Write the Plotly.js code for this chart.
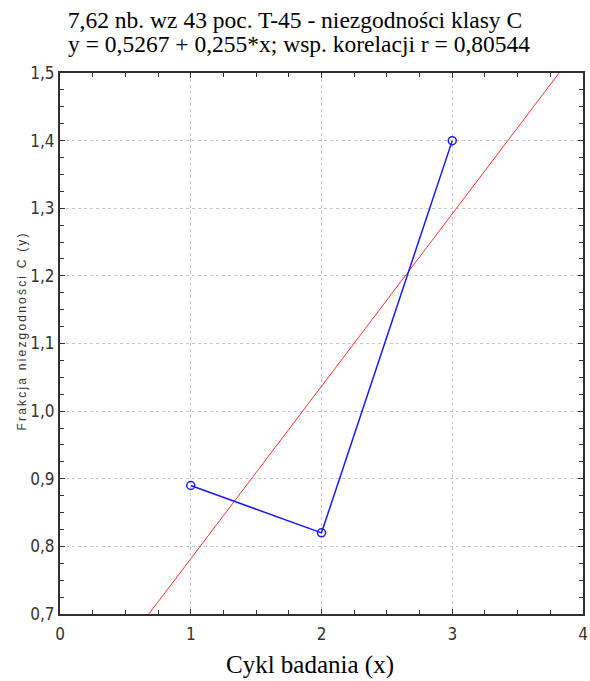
<!DOCTYPE html>
<html>
<head>
<meta charset="utf-8">
<script src="https://cdn.plot.ly/plotly-3.0.1.min.js"></script>
<style>
  html, body { margin: 0; padding: 0; background: #fff; }
  #chart { width: 590px; height: 681px; }
</style>
</head>
<body>
<div id="chart"></div>
<script>
// Measured cycles and class-C nonconformity fractions
const cycles = [1, 2, 3];
const fractions = [0.89, 0.82, 1.40];

// Least-squares fit reported in the title
const intercept = 0.5267;
const slope = 0.255;
const fitX = [0, 4];
const fitY = fitX.map(x => intercept + slope * x);

const titleText = '7,62 nb. wz 43 poc. T-45 - niezgodności klasy C';
const fitText = 'y = 0,5267 + 0,255*x; wsp. korelacji r = 0,80544';
const xTitle = 'Cykl badania (x)';
const yTitle = 'Frakcja niezgodności C (y)';

const serif = '"Liberation Serif", "Times New Roman", serif';
const narrow = '"Liberation Sans Narrow", "Arial Narrow", "DejaVu Sans Condensed", sans-serif';

const traces = [
  {
    x: fitX, y: fitY, mode: 'lines', type: 'scatter',
    line: { color: '#ff3030', width: 1 },
    hoverinfo: 'skip', cliponaxis: true
  },
  {
    x: cycles, y: fractions, mode: 'lines+markers', type: 'scatter',
    line: { color: '#1a1aff', width: 1.5 },
    marker: { symbol: 'circle-open', size: 8, color: '#1a1aff', line: { width: 1.5 } }
  }
];

const axisCommon = {
  showline: true, linecolor: '#303030', linewidth: 2, mirror: 'ticks',
  ticks: 'inside', ticklen: 5, tickwidth: 1, tickcolor: '#303030',
  showgrid: true, gridcolor: '#c8c8c8', griddash: 'dot', gridwidth: 1,
  zeroline: false, fixedrange: true,
  tickfont: { family: narrow, size: 17, color: '#333' }
};

const layout = {
  width: 590, height: 681,
  margin: { l: 60, r: 7, t: 73, b: 67 },
  paper_bgcolor: '#fff', plot_bgcolor: '#fff',
  showlegend: false,
  separators: ', ',
  title: {
    text: titleText,
    font: { family: serif, size: 23.5, color: '#000' },
    x: 0.5, xanchor: 'center', xref: 'container',
    y: 1 - 20 / 681, yanchor: 'middle', yref: 'container'
  },
  xaxis: Object.assign({}, axisCommon, {
    range: [0, 4], dtick: 1, tickformat: 'd', ticklabelstandoff: 4,
    minor: { dtick: 0.25, ticks: 'inside', ticklen: 4, tickcolor: '#303030', showgrid: false }
  }),
  yaxis: Object.assign({}, axisCommon, {
    range: [0.7, 1.5], dtick: 0.1, tickformat: '.1f',
    minor: { dtick: 0.025, ticks: 'inside', ticklen: 4, tickcolor: '#303030', showgrid: false }
  }),
  annotations: [
    {
      // regression equation, second title line
      text: fitText, xref: 'paper', yref: 'paper',
      x: (299 - 60) / 523, y: 1, xanchor: 'center', yanchor: 'middle',
      yshift: 73 - 44, showarrow: false,
      font: { family: serif, size: 23.5, color: '#000' }
    },
    {
      text: xTitle, xref: 'paper', yref: 'paper',
      x: (310 - 60) / 523, y: 0, xanchor: 'center', yanchor: 'middle',
      yshift: -(665 - 614), showarrow: false,
      font: { family: serif, size: 25, color: '#000' }
    },
    {
      text: '<span style="letter-spacing:2.2px">' + yTitle + '</span>',
      xref: 'paper', yref: 'paper',
      x: 0, y: 0.5, xanchor: 'center', yanchor: 'middle',
      xshift: -39, yshift: 12, textangle: -90, showarrow: false,
      font: { family: '"Liberation Sans", Arial, sans-serif', size: 12, color: '#333' }
    }
  ]
};

Plotly.newPlot('chart', traces, layout, { staticPlot: true, displayModeBar: false });
</script>
</body>
</html>
